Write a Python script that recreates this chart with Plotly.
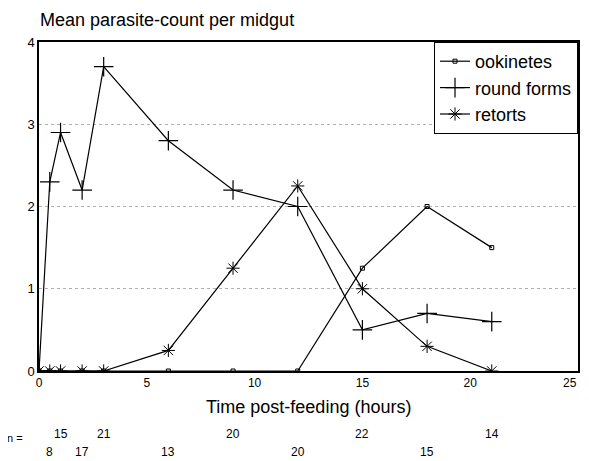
import plotly.graph_objects as go

# ---- data ----
hours = [0, 0.5, 1, 2, 3, 6, 9, 12, 15, 18, 21]
ookinetes = [0, 0, 0, 0, 0, 0, 0, 0, 1.25, 2.0, 1.5]
round_forms = [0, 2.3, 2.9, 2.2, 3.7, 2.8, 2.2, 2.0, 0.5, 0.7, 0.6]
retorts = [0, 0, 0, 0, 0, 0.25, 1.25, 2.25, 1.0, 0.3, 0]

n_hours = [0.5, 1, 2, 3, 6, 9, 12, 15, 18, 21]
n_labels = ["8", "15", "17", "21", "13", "20", "20", "22", "15", "14"]

y_ticks = [0, 1, 2, 3, 4]
x_ticks = [0, 5, 10, 15, 20, 25]

FONT = "Liberation Sans, Arial, Helvetica, sans-serif"

# the page body has an 8px margin; the figure is sized to fit inside it
OFF = 8
W, H = 589 - 2 * OFF, 461 - OFF
R = 1

fig = go.Figure()
fig.add_trace(go.Scatter(
    x=hours, y=ookinetes, name="ookinetes", mode="lines+markers",
    line=dict(color="black", width=1.2),
    marker=dict(symbol="square-open", size=4, color="black", line=dict(width=1)),
))
fig.add_trace(go.Scatter(
    x=hours, y=round_forms, name="round forms", mode="lines+markers",
    line=dict(color="black", width=1.2),
    marker=dict(symbol="cross-thin-open", size=14, color="black", line=dict(width=1.2, color="black")),
))
fig.add_trace(go.Scatter(
    x=hours, y=retorts, name="retorts", mode="lines+markers",
    line=dict(color="black", width=1.2),
    marker=dict(symbol="asterisk-open", size=11, color="black", line=dict(width=1, color="black")),
))

PLOT_H = 329
PLOT_W = W - (39 - OFF) - R
def py(pix):
    return (371 - pix) / PLOT_H
def px(pix):
    return (pix - 39) / PLOT_W

annotations = []
for i, (h, lab) in enumerate(zip(n_hours, n_labels)):
    annotations.append(dict(
        x=h, xref="x", y=(py(452) if i % 2 == 0 else py(434)), yref="paper",
        text=lab, showarrow=False, yanchor="middle", xanchor="center",
        font=dict(size=12, color="black", family=FONT),
    ))
annotations.append(dict(
    x=px(15), xref="paper", y=py(438), yref="paper", text="n =", showarrow=False,
    xanchor="center", yanchor="middle", font=dict(size=11, color="black", family=FONT),
))
annotations.append(dict(
    x=px(310), xref="paper", y=py(407), yref="paper", text="Time post-feeding (hours)",
    showarrow=False, xanchor="center", yanchor="middle",
    font=dict(size=18, color="black", family=FONT),
))
# last x tick label anchored to its right so it is not cut at the page edge
annotations.append(dict(
    x=x_ticks[-1], xref="x", y=py(383), yref="paper", text=str(x_ticks[-1]),
    showarrow=False, xanchor="right", yanchor="middle", xshift=1,
    font=dict(size=12, color="black", family=FONT),
))

fig.update_layout(
    width=W, height=H, autosize=False,
    margin=dict(l=39 - OFF, r=R, t=42 - OFF, b=H - (371 - OFF)),
    paper_bgcolor="white", plot_bgcolor="white",
    font=dict(family=FONT, color="black"),
    title=dict(text="Mean parasite-count per midgut", x=(40 - OFF) / W, xanchor="left",
               xref="container", y=1 - (20 - OFF) / H, yanchor="middle", yref="container",
               font=dict(size=18, color="black", family=FONT)),
    showlegend=True,
    legend=dict(x=1, y=1, xanchor="right", yanchor="top", bgcolor="white",
                bordercolor="black", borderwidth=1,
                font=dict(size=18, color="black", family=FONT),
                itemwidth=30, tracegroupgap=4),
    annotations=annotations,
)
fig.update_xaxes(range=[0, 25], tickvals=x_ticks[:-1], showgrid=False, zeroline=False,
                 showline=True, linecolor="black", linewidth=1.5, mirror=True,
                 ticks="", tickfont=dict(size=12, color="black", family=FONT))
fig.update_yaxes(range=[0, 4], tickvals=y_ticks, showgrid=True, gridcolor="#b0b0b0",
                 griddash="dot", gridwidth=1, zeroline=False,
                 showline=True, linecolor="black", linewidth=1.5, mirror=True,
                 ticks="", tickfont=dict(size=13, color="black", family=FONT))

fig.write_html("out.html")
